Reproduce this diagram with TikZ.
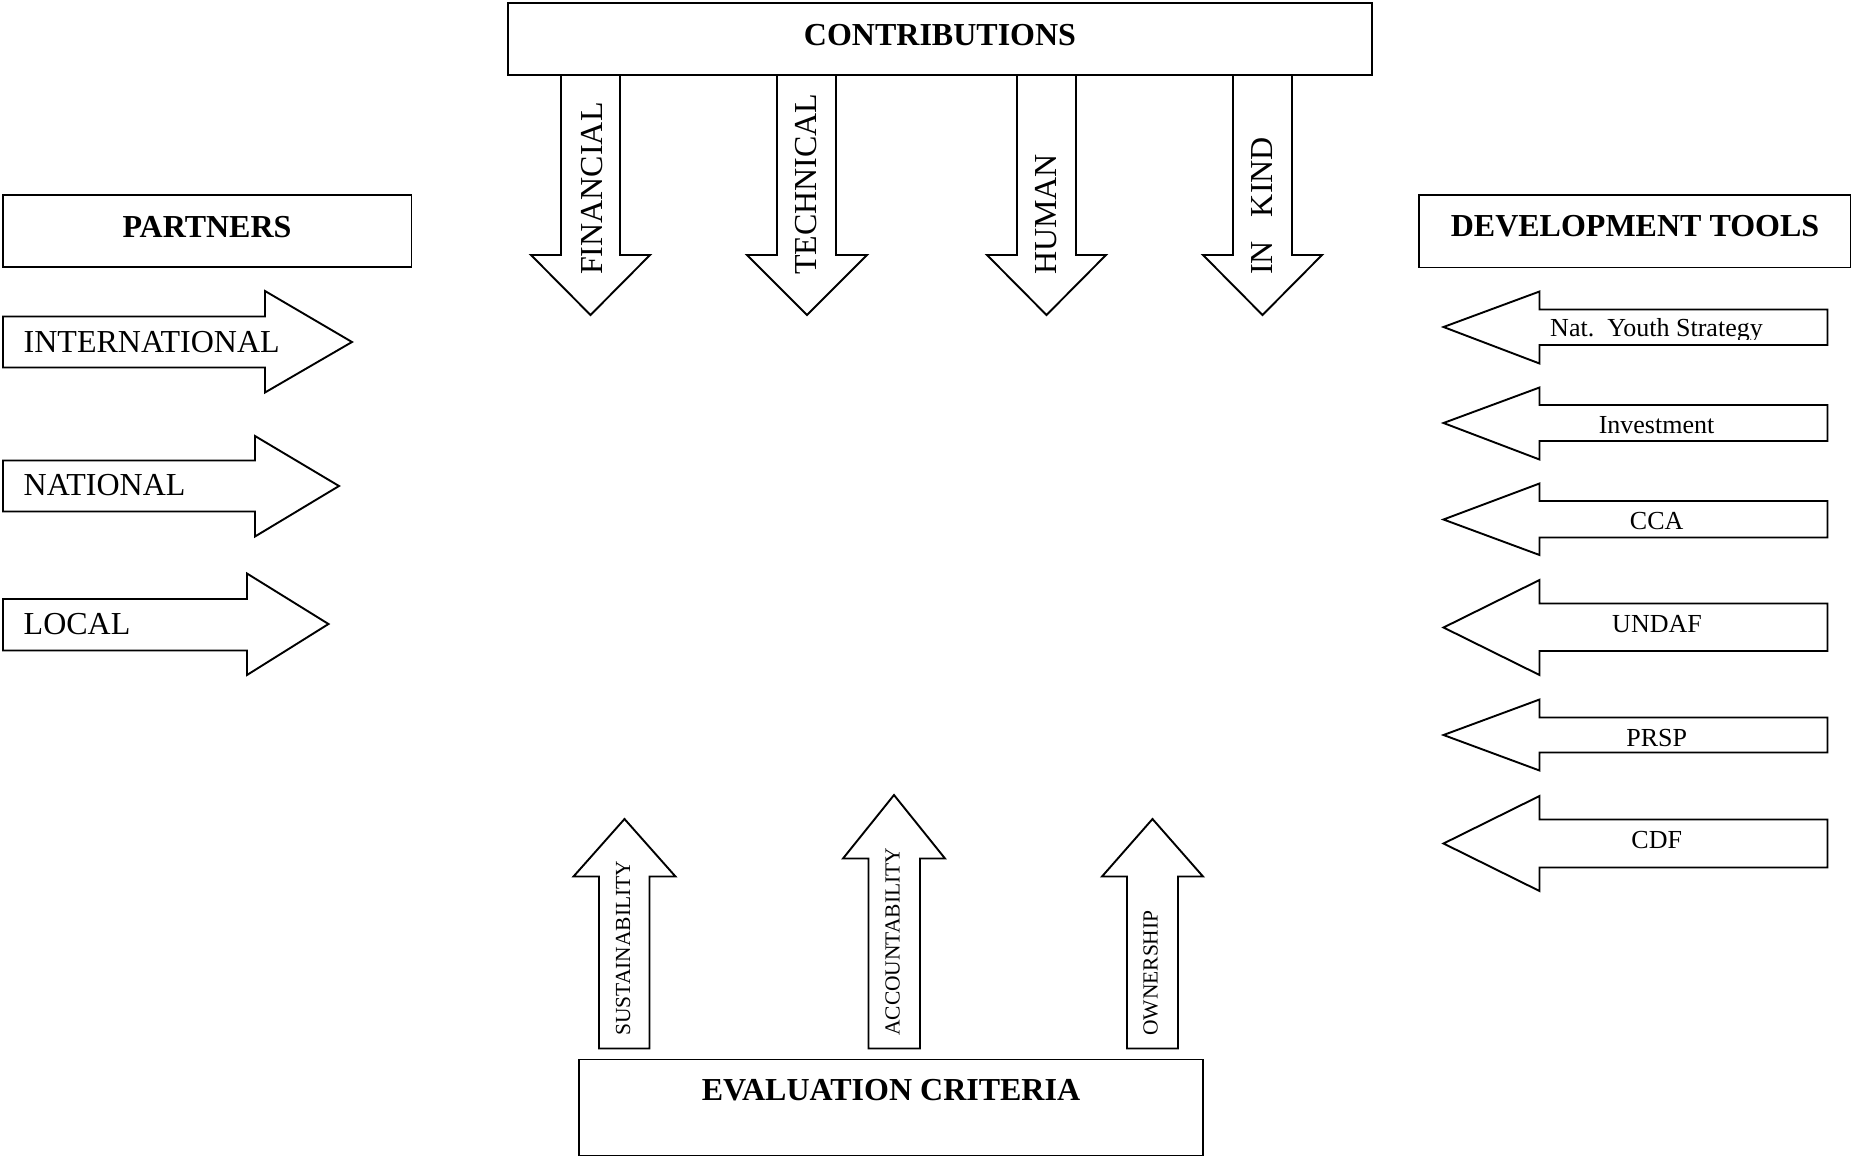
\documentclass[tikz,border=0pt]{standalone}
\usepackage{fontspec}
\setmainfont{Liberation Serif}
\tikzset{
  shp/.style={draw=black, line width=1.9pt, line join=miter, fill=white},
  boxtxt/.style={inner sep=0pt, font=\fontsize{32}{38}\selectfont\bfseries, anchor=base},
  ptxt/.style={inner sep=0pt, font=\fontsize{32}{38}\selectfont, anchor=base west},
  dtxt/.style={inner sep=0pt, font=\fontsize{32}{38}\selectfont, anchor=base west, rotate=90},
  utxt/.style={inner sep=0pt, font=\fontsize{21.5}{25}\selectfont, anchor=base west, rotate=90},
  ttxt/.style={inner sep=0pt, font=\fontsize{26}{30}\selectfont, anchor=base},
}
\begin{document}
\begin{tikzpicture}[x=1pt, y=-1pt]
\useasboundingbox (0,0) rectangle (1852,1159);
\fill[white] (0,0) rectangle (1852,1159);

% ---------- CONTRIBUTIONS ----------
\foreach \sl/\sr/\hl/\hr/\tx in {561/620/531/650/590.5, 777/836/747/867/807, 1017/1076/987/1106/1046.5, 1233/1292/1203/1322/1262.5}{
  \draw[shp] (\sl,70) -- (\sl,255) -- (\hl,255) -- (\tx,315) -- (\hr,255) -- (\sr,255) -- (\sr,70);
}
\draw[shp] (508,3) rectangle (1372,75);
\node[boxtxt] (contrib) at (940,45) {CONTRIBUTIONS};
\node[dtxt] (financial) at (602.5,275) {FINANCIAL};
\node[dtxt] (technical) at (816.5,275) {TECHNICAL};
\node[dtxt] (human) at (1056,275) {HUMAN};
\node[dtxt] (inkind) at (1272,275) {IN\hspace{24pt}KIND};

% ---------- PARTNERS ----------
\draw[shp] (3,195) rectangle (411.5,267);
\node[boxtxt] (partners) at (207,237) {PARTNERS};
\draw[shp] (3,316.5) -- (265,316.5) -- (265,291) -- (352,342) -- (265,392.5) -- (265,367.5) -- (3,367.5) -- cycle;
\draw[shp] (3,460.5) -- (255,460.5) -- (255,436) -- (339,486) -- (255,536.5) -- (255,511.5) -- (3,511.5) -- cycle;
\draw[shp] (3,599) -- (247,599) -- (247,573.5) -- (328.5,624) -- (247,675) -- (247,650.5) -- (3,650.5) -- cycle;
\node[ptxt] (intl) at (23.5,352.3) {INTERNATIONAL};
\node[ptxt] (natl) at (23.5,495.5) {NATIONAL};
\node[ptxt] (local) at (23.5,634) {LOCAL};

% ---------- DEVELOPMENT TOOLS ----------
\draw[shp] (1419,195) rectangle (1850.5,267.5);
\node[boxtxt] (devtools) at (1635,236) {DEVELOPMENT TOOLS};
\foreach \ht/\st/\tp/\sb/\hb in {291.5/309.5/327/345/363.5, 387.5/405/423/441/459.5, 483.5/501/519.5/537.5/555, 580/603.5/627.5/651/675, 699.5/717.5/735/752.5/770.5, 796/819.5/843.5/867.5/891}{
  \draw[shp] (1827.5,\st) -- (1539.5,\st) -- (1539.5,\ht) -- (1443.5,\tp) -- (1539.5,\hb) -- (1539.5,\sb) -- (1827.5,\sb) -- cycle;
}
\begin{scope}
  \clip (1539.5,309.5) rectangle (1827.5,339);
  \node[ttxt] (nys) at (1656.5,336.5) {Nat.\ \ Youth Strategy};
\end{scope}
\node[ttxt] (invest) at (1656.5,433.3) {Investment};
\node[ttxt] (cca) at (1656.7,529.3) {CCA};
\node[ttxt] (undaf) at (1657,632.7) {UNDAF};
\node[ttxt] (prsp) at (1656.7,746) {PRSP};
\node[ttxt] (cdf) at (1656.7,848.3) {CDF};

% ---------- EVALUATION CRITERIA ----------
\foreach \sl/\sr/\hl/\hr/\tx/\ty/\hb in {599/649.5/573.5/675.5/624.5/819/876.5, 868.5/920/843/945/894/795/858.5, 1127/1178/1102/1203/1152.5/819/876.5}{
  \draw[shp] (\sl,1048.5) -- (\sl,\hb) -- (\hl,\hb) -- (\tx,\ty) -- (\hr,\hb) -- (\sr,\hb) -- (\sr,1048.5) -- cycle;
}
\node[utxt] (sust) at (630,1036) {SUSTAINABILITY};
\node[utxt] (acc) at (899.5,1036) {ACCOUNTABILITY};
\node[utxt] (own) at (1157.5,1036) {OWNERSHIP};
\draw[shp] (579,1059.5) rectangle (1203,1155.5);
\node[boxtxt] (evalc) at (891,1100.7) {EVALUATION CRITERIA};
\end{tikzpicture}
\end{document}
